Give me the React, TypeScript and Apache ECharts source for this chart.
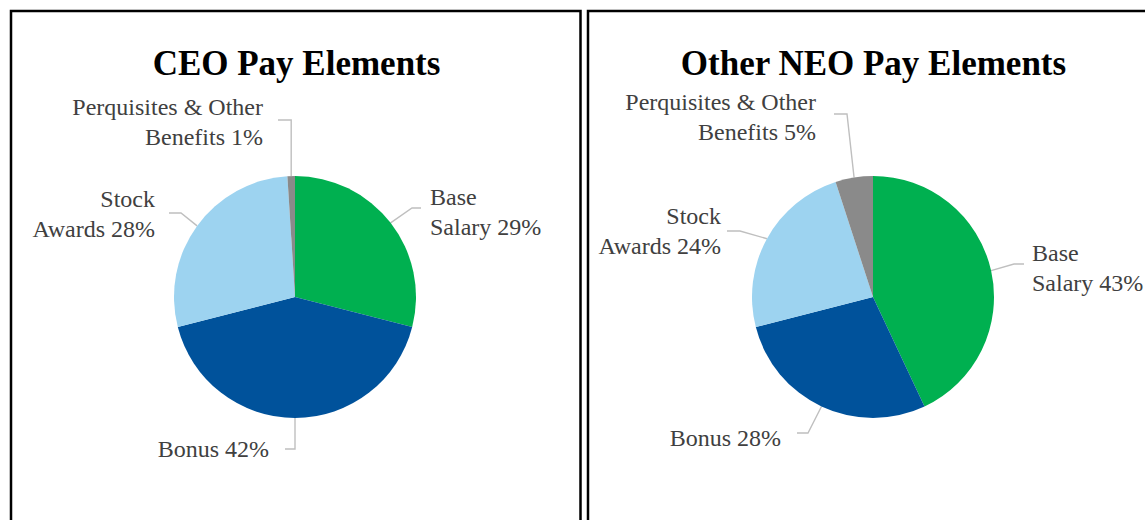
import React, { useEffect, useRef } from "react";
import * as echarts from "echarts";

const categories = ["Base Salary", "Bonus", "Stock Awards", "Perquisites & Other Benefits"];
const labelTexts = ["Base\nSalary", "Bonus", "Stock\nAwards", "Perquisites & Other\nBenefits"];
const ceoValues = [29, 42, 28, 1];
const neoValues = [43, 28, 24, 5];
const titles = ["CEO Pay Elements", "Other NEO Pay Elements"];
const colors = ["#00B050", "#00529B", "#9DD3F0", "#8A8A8A"];

// label anchor layout (positions, not data)
const labelPos = [
  [
    { x: 430, y: 212, align: "left" },
    { x: 269, y: 449, align: "right" },
    { x: 155, y: 214, align: "right" },
    { x: 263, y: 122, align: "right" },
  ],
  [
    { x: 1032, y: 268, align: "left" },
    { x: 781, y: 438, align: "right" },
    { x: 721, y: 231, align: "right" },
    { x: 816, y: 117, align: "right" },
  ],
];

// leader line geometry: end point near label, elbow x (null = straight up/down from slice)
const leaderPos = [
  [
    { endX: 421, lineY: 208, elbowX: 412 },
    { endX: 285, lineY: 449, elbowX: null },
    { endX: 169, lineY: 213, elbowX: 181 },
    { endX: 278, lineY: 120, elbowX: null },
  ],
  [
    { endX: 1024, lineY: 264, elbowX: 1014 },
    { endX: 797, lineY: 433, elbowX: 808 },
    { endX: 727, lineY: 231, elbowX: 740 },
    { endX: 834, lineY: 114, elbowX: 847 },
  ],
];

export default function App() {
  const ref = useRef<HTMLDivElement>(null);
  useEffect(() => {
    if (!ref.current) return;
    const chart = echarts.init(ref.current, null, { renderer: "svg" });
    const makeSeries = (vals: number[], cx: number, idx: number) => ({
      type: "pie",
      center: [cx, 297],
      radius: 121,
      startAngle: 90,
      clockwise: true,
      silent: true,
      data: vals.map((v, i) => ({
        name: categories[i],
        value: v,
        itemStyle: { color: colors[i] },
        label: { formatter: labelTexts[i] + " " + v + "%" },
      })),
      label: {
        show: true,
        position: "outside",
        fontFamily: "Liberation Serif",
        fontSize: 24,
        lineHeight: 30,
        color: "#404040",
      },
      labelLine: {
        show: true,
        length: 10,
        length2: 10,
        lineStyle: { color: "#BFBFBF", width: 1.4 },
      },
      labelLayout: (params: any) => {
        const p = labelPos[idx][params.dataIndex];
        const l = leaderPos[idx][params.dataIndex];
        const start = params.labelLinePoints && params.labelLinePoints[0];
        const out: any = { x: p.x, y: p.y, align: p.align, verticalAlign: "middle" };
        if (start) {
          const ex = l.elbowX == null ? start[0] : l.elbowX;
          out.labelLinePoints = [
            [start[0], start[1]],
            [ex, l.lineY],
            [l.endX, l.lineY],
          ];
        }
        return out;
      },
    });
    const titleStyle = { fontFamily: "Liberation Serif", fontSize: 35, fontWeight: "bold", color: "#000" };
    chart.setOption({
      animation: false,
      backgroundColor: "#ffffff",
      title: [
        { text: titles[0], left: 291.5, top: 41, textAlign: "center", textStyle: titleStyle },
        { text: titles[1], left: 868.5, top: 41, textAlign: "center", textStyle: titleStyle },
      ],
      graphic: [
        { type: "rect", shape: { x: 11, y: 11, width: 569.5, height: 530 }, style: { fill: "none", stroke: "#000", lineWidth: 2.5 } },
        { type: "rect", shape: { x: 588, y: 11, width: 600, height: 530 }, style: { fill: "none", stroke: "#000", lineWidth: 2.5 } },
      ],
      series: [makeSeries(ceoValues, 295, 0), makeSeries(neoValues, 873, 1)],
    });
    return () => chart.dispose();
  }, []);
  return <div ref={ref} style={{ position: "absolute", left: 0, top: 0, width: 1145, height: 520 }} />;
}
